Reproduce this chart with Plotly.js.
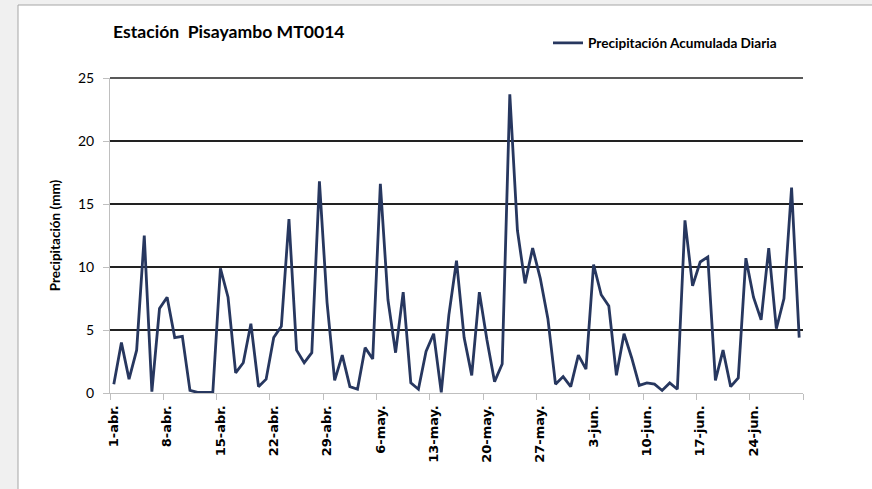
<!DOCTYPE html>
<html>
<head>
<meta charset="utf-8">
<script src="https://cdn.plot.ly/plotly-3.0.1.min.js"></script>
<style>html,body{margin:0;padding:0;background:#f0f0f0;}#chart{width:872px;height:489px;}</style>
</head>
<body>
<div id="chart"></div>
<script>
// Daily dates (1 abr – 30 jun)
const dates = [
 "2013-04-01","2013-04-02","2013-04-03","2013-04-04","2013-04-05","2013-04-06","2013-04-07","2013-04-08","2013-04-09","2013-04-10",
 "2013-04-11","2013-04-12","2013-04-13","2013-04-14","2013-04-15","2013-04-16","2013-04-17","2013-04-18","2013-04-19","2013-04-20",
 "2013-04-21","2013-04-22","2013-04-23","2013-04-24","2013-04-25","2013-04-26","2013-04-27","2013-04-28","2013-04-29","2013-04-30",
 "2013-05-01","2013-05-02","2013-05-03","2013-05-04","2013-05-05","2013-05-06","2013-05-07","2013-05-08","2013-05-09","2013-05-10",
 "2013-05-11","2013-05-12","2013-05-13","2013-05-14","2013-05-15","2013-05-16","2013-05-17","2013-05-18","2013-05-19","2013-05-20",
 "2013-05-21","2013-05-22","2013-05-23","2013-05-24","2013-05-25","2013-05-26","2013-05-27","2013-05-28","2013-05-29","2013-05-30",
 "2013-05-31","2013-06-01","2013-06-02","2013-06-03","2013-06-04","2013-06-05","2013-06-06","2013-06-07","2013-06-08","2013-06-09",
 "2013-06-10","2013-06-11","2013-06-12","2013-06-13","2013-06-14","2013-06-15","2013-06-16","2013-06-17","2013-06-18","2013-06-19",
 "2013-06-20","2013-06-21","2013-06-22","2013-06-23","2013-06-24","2013-06-25","2013-06-26","2013-06-27","2013-06-28","2013-06-29",
 "2013-06-30"
];

// Precipitación acumulada diaria (mm)
const precip = [
 0.7, 4.0, 1.1, 3.4, 12.5, 0.1, 6.7, 7.6, 4.4, 4.5,
 0.2, 0.05, 0.05, 0.05, 9.9, 7.6, 1.6, 2.4, 5.5, 0.5,
 1.1, 4.4, 5.3, 13.8, 3.4, 2.4, 3.2, 16.8, 7.2, 1.0,
 3.0, 0.5, 0.3, 3.6, 2.7, 16.6, 7.4, 3.2, 8.0, 0.8,
 0.3, 3.3, 4.7, 0.05, 6.2, 10.5, 4.4, 1.4, 8.0, 4.2,
 0.9, 2.3, 23.7, 12.9, 8.7, 11.5, 9.1, 5.9, 0.7, 1.3,
 0.5, 3.0, 1.9, 10.2, 7.8, 6.9, 1.4, 4.7, 2.8, 0.6,
 0.8, 0.7, 0.2, 0.8, 0.3, 13.7, 8.5, 10.4, 10.8, 1.0,
 3.4, 0.5, 1.2, 10.7, 7.6, 5.8, 11.5, 5.1, 7.5, 16.3,
 4.4
];

// X tick positions and labels
const xTickVals = ["2013-04-01","2013-04-08","2013-04-15","2013-04-22","2013-04-29","2013-05-06","2013-05-13",
                   "2013-05-20","2013-05-27","2013-06-03","2013-06-10","2013-06-17","2013-06-24"];
const xTickText = ["1-abr.","8-abr.","15-abr.","22-abr.","29-abr.","6-may.","13-may.",
                   "20-may.","27-may.","3-jun.","10-jun.","17-jun.","24-jun."];
const yTickVals = [0, 5, 10, 15, 20, 25];
const yMax = 25;

const seriesName = "Precipitación Acumulada Diaria";
const chartTitle = "Estación\u00a0\u00a0Pisayambo MT0014";
const yTitle = "Precipitación (mm)";

const W = 872, H = 489;
const L = 110, R = 69, T = 78, B = 96;
const pw = W - L - R, ph = H - T - B;
const px = v => (v - L) / pw;            // pixel x -> paper x
const py = v => (H - B - v) / ph;        // pixel y -> paper y

const gridColor = "#222222", gridWidth = 1.6;

const trace = {
  x: dates,
  y: precip,
  type: "scatter",
  mode: "lines",
  name: seriesName,
  line: {color: "#27375f", width: 2.8},
  showlegend: true
};

const layout = {
  width: W, height: H,
  margin: {l: L, r: R, t: T, b: B, pad: 0},
  paper_bgcolor: "#f0f0f0",
  plot_bgcolor: "rgba(0,0,0,0)",
  font: {family: "Lato, 'Noto Sans', sans-serif", color: "#000"},
  title: {
    text: chartTitle,
    font: {family: "Lato, sans-serif", size: 17.6, weight: "bold", color: "#000"},
    xref: "paper", x: px(113), xanchor: "left",
    yref: "container", y: 1 - 32 / H, yanchor: "middle"
  },
  xaxis: {
    type: "date",
    range: ["2013-03-31 12:00", "2013-06-30 12:00"],
    tickmode: "array",
    tickvals: xTickVals,
    ticktext: xTickText,
    tickangle: -90,
    ticks: "",
    ticklen: 0,
    ticklabelstandoff: 6,
    tickfont: {family: "'DejaVu Sans', sans-serif", size: 13, weight: "bold", color: "#000"},
    showgrid: false,
    zeroline: false,
    showline: true,
    linecolor: "#bfbfbf",
    linewidth: 1,
    minor: {
      ticks: "outside",
      tick0: "2013-03-31 12:00",
      dtick: 7 * 86400000,
      ticklen: 6,
      tickcolor: "#bfbfbf",
      tickwidth: 1,
      showgrid: false
    },
    fixedrange: true
  },
  yaxis: {
    range: [0, yMax],
    tickmode: "array",
    tickvals: yTickVals,
    ticks: "outside",
    ticklen: 6,
    tickcolor: "#bfbfbf",
    ticklabelstandoff: 6,
    tickfont: {family: "Lato, sans-serif", size: 14, color: "#000"},
    showgrid: true,
    gridcolor: gridColor,
    gridwidth: gridWidth,
    zeroline: false,
    showline: true,
    linecolor: "#bfbfbf",
    linewidth: 1,
    title: {
      text: yTitle,
      font: {family: "Lato, sans-serif", size: 13.5, weight: "bold", color: "#000"},
      standoff: 14
    },
    automargin: false,
    fixedrange: true
  },
  legend: {
    x: px(548), xanchor: "left",
    y: py(43), yanchor: "middle",
    bgcolor: "rgba(0,0,0,0)",
    font: {family: "Lato, sans-serif", size: 13.6, weight: "bold", color: "#000"},
    itemwidth: 30
  },
  shapes: [
    {type: "rect", xref: "paper", yref: "paper", layer: "below",
     x0: px(18), x1: px(900), y0: py(530), y1: py(5),
     fillcolor: "#ffffff", line: {color: "#a6a6a6", width: 1}},
    // top gridline at the upper end of the axis (Plotly skips the edge gridline)
    {type: "line", xref: "paper", yref: "paper", layer: "below",
     x0: 0, x1: 1, y0: 1, y1: 1,
     line: {color: gridColor, width: gridWidth}}
  ]
};

Plotly.newPlot("chart", [trace], layout, {displayModeBar: false, staticPlot: true});
</script>
</body>
</html>
